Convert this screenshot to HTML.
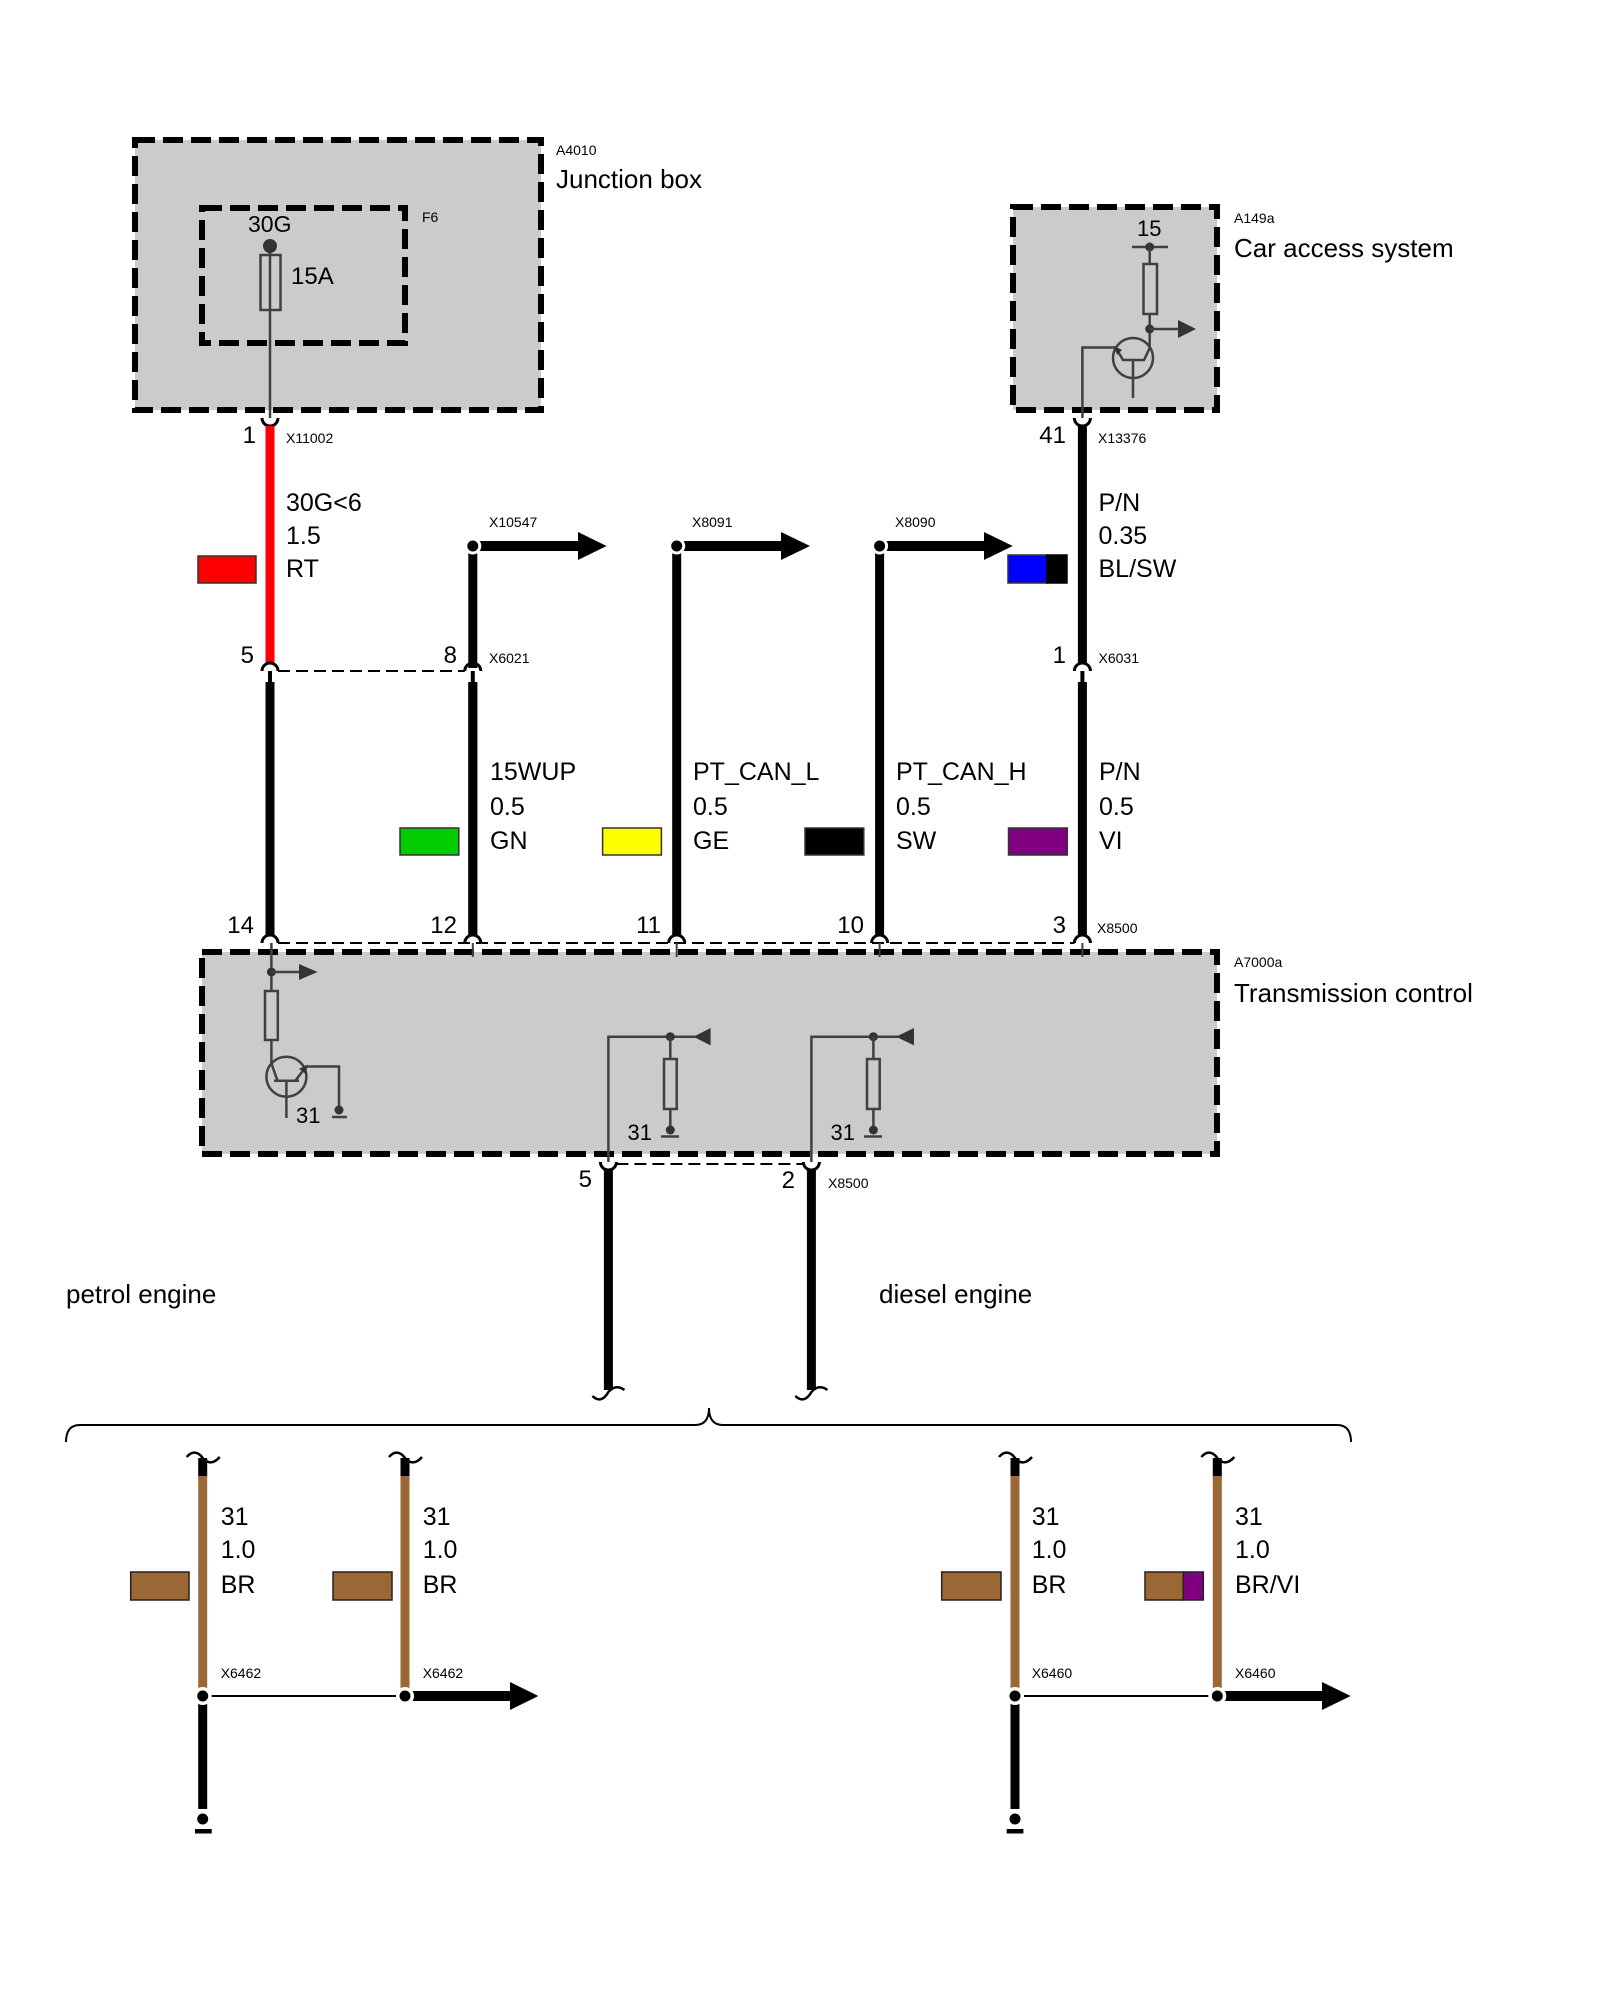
<!DOCTYPE html>
<html><head><meta charset="utf-8"><style>
html,body{margin:0;padding:0;background:#fff;}
svg{display:block;}
text{font-family:"Liberation Sans",Arial,sans-serif;fill:#000;}
.s14{font-size:14px;}
.s22{font-size:22px;}
.s24{font-size:24px;}
.s25{font-size:25px;}
.s26{font-size:26px;}
.e{text-anchor:end;}
</style></head><body>
<svg width="1600" height="2000" viewBox="0 0 1600 2000" xmlns="http://www.w3.org/2000/svg">
<rect width="1600" height="2000" fill="#fff"/>

<!-- ===== Junction box A4010 ===== -->
<rect x="135" y="140" width="406" height="270" fill="#cbcbcb" stroke="#000" stroke-width="6" stroke-dasharray="20 8"/>
<rect x="202" y="208" width="203" height="135" fill="none" stroke="#000" stroke-width="6" stroke-dasharray="20 8"/>
<text class="s14" x="556" y="155">A4010</text>
<text class="s26" x="556" y="188">Junction box</text>
<text class="s14" x="422" y="222">F6</text>
<text class="s22" x="248" y="232" style="font-size:23px">30G</text>
<line x1="270" y1="246" x2="270" y2="418" stroke="#404040" stroke-width="2.5"/>
<circle cx="270" cy="246" r="7" fill="#333"/>
<rect x="260.5" y="255" width="20" height="55" fill="none" stroke="#404040" stroke-width="2.5"/>
<text class="s24" x="291" y="284">15A</text>

<!-- connector X11002 -->
<path d="M262 418 A8 8 0 0 0 278 418" fill="none" stroke="#000" stroke-width="3"/>
<line x1="270" y1="426" x2="270" y2="663" stroke="#f00" stroke-width="9"/>
<text class="s24 e" x="256" y="443">1</text>
<text class="s14" x="286" y="443">X11002</text>
<rect x="198" y="556" width="58" height="27" fill="#f00" stroke="#333" stroke-width="1.5"/>
<text class="s25" x="286" y="511">30G&lt;6</text>
<text class="s25" x="286" y="544">1.5</text>
<text class="s25" x="286" y="577">RT</text>

<!-- ===== Car access system A149a ===== -->
<rect x="1013" y="207" width="204" height="203" fill="#cbcbcb" stroke="#000" stroke-width="6" stroke-dasharray="20 8"/>
<text class="s14" x="1234" y="223">A149a</text>
<text class="s26" x="1234" y="257">Car access system</text>
<text class="s22" x="1137" y="236">15</text>
<line x1="1132" y1="247" x2="1168" y2="247" stroke="#404040" stroke-width="2.5"/>
<circle cx="1149.7" cy="247" r="4.5" fill="#333"/>
<line x1="1149.7" y1="247" x2="1149.7" y2="350" stroke="#404040" stroke-width="2.5"/>
<rect x="1143.5" y="264" width="13.5" height="50" fill="#cbcbcb" stroke="#404040" stroke-width="2.5"/>
<circle cx="1149.7" cy="329" r="4.5" fill="#333"/>
<line x1="1149.7" y1="329" x2="1180" y2="329" stroke="#404040" stroke-width="2.5"/>
<polygon points="1178,320 1196,329 1178,338" fill="#333"/>
<circle cx="1133" cy="358" r="20" fill="none" stroke="#404040" stroke-width="2.5"/>
<line x1="1149.7" y1="348" x2="1144" y2="360" stroke="#404040" stroke-width="2.5"/>
<line x1="1122" y1="360" x2="1145" y2="360" stroke="#404040" stroke-width="2.5"/>
<line x1="1123" y1="360" x2="1116" y2="348" stroke="#404040" stroke-width="2.5"/>
<polygon points="1114,346 1122,350 1117,355" fill="#333"/>
<line x1="1133" y1="360" x2="1133" y2="398" stroke="#404040" stroke-width="2.5"/>
<polyline points="1116,347.5 1082.4,347.5 1082.4,418" fill="none" stroke="#404040" stroke-width="2.5"/>

<!-- connector X13376 -->
<path d="M1074.4 418 A8 8 0 0 0 1090.4 418" fill="none" stroke="#000" stroke-width="3"/>
<line x1="1082.4" y1="426" x2="1082.4" y2="663" stroke="#000" stroke-width="9"/>
<text class="s24 e" x="1066" y="443">41</text>
<text class="s14" x="1098" y="443">X13376</text>
<rect x="1008" y="555" width="39" height="28" fill="#00f" stroke="#333" stroke-width="1.5"/>
<rect x="1047" y="555" width="20" height="28" fill="#000" stroke="#000" stroke-width="1.5"/>
<text class="s25" x="1098.5" y="511">P/N</text>
<text class="s25" x="1098.5" y="544">0.35</text>
<text class="s25" x="1098.5" y="577">BL/SW</text>

<!-- ===== arrows X10547 / X8091 / X8090 ===== -->
<g>
<line x1="472.8" y1="546" x2="472.8" y2="935" stroke="#000" stroke-width="9"/>
<line x1="472.8" y1="546" x2="580" y2="546" stroke="#000" stroke-width="10"/>
<polygon points="578,532 606.6,546 578,560" fill="#000"/>
<circle cx="472.8" cy="546" r="8.5" fill="#fff"/>
<circle cx="472.8" cy="546" r="5.5" fill="#000"/>
<text class="s14" x="489" y="527">X10547</text>

<line x1="676.7" y1="546" x2="676.7" y2="935" stroke="#000" stroke-width="9"/>
<line x1="676.7" y1="546" x2="783" y2="546" stroke="#000" stroke-width="10"/>
<polygon points="781,532 810,546 781,560" fill="#000"/>
<circle cx="676.7" cy="546" r="8.5" fill="#fff"/>
<circle cx="676.7" cy="546" r="5.5" fill="#000"/>
<text class="s14" x="692" y="527">X8091</text>

<line x1="879.6" y1="546" x2="879.6" y2="935" stroke="#000" stroke-width="9"/>
<line x1="879.6" y1="546" x2="986" y2="546" stroke="#000" stroke-width="10"/>
<polygon points="984,532 1012.7,546 984,560" fill="#000"/>
<circle cx="879.6" cy="546" r="8.5" fill="#fff"/>
<circle cx="879.6" cy="546" r="5.5" fill="#000"/>
<text class="s14" x="895" y="527">X8090</text>
</g>

<rect x="466" y="668" width="14" height="14" fill="#fff"/>

<!-- ===== connectors X6021 / X6031 ===== -->
<line x1="278" y1="671" x2="464.8" y2="671" stroke="#000" stroke-width="2" stroke-dasharray="12 6"/>
<path d="M262 671 A8 8 0 0 1 278 671" fill="none" stroke="#000" stroke-width="3"/>
<path d="M464.8 671 A8 8 0 0 1 480.8 671" fill="none" stroke="#000" stroke-width="3"/>
<path d="M1074.4 671 A8 8 0 0 1 1090.4 671" fill="none" stroke="#000" stroke-width="3"/>
<line x1="270" y1="671" x2="270" y2="683" stroke="#000" stroke-width="4"/>
<line x1="472.8" y1="671" x2="472.8" y2="683" stroke="#000" stroke-width="4"/>
<line x1="1082.4" y1="671" x2="1082.4" y2="683" stroke="#000" stroke-width="4"/>
<text class="s24 e" x="254" y="663">5</text>
<text class="s24 e" x="457" y="663">8</text>
<text class="s14" x="489" y="663">X6021</text>
<text class="s24 e" x="1066" y="663">1</text>
<text class="s14" x="1098.5" y="663">X6031</text>

<!-- lower wires -->
<line x1="270" y1="682" x2="270" y2="935" stroke="#000" stroke-width="9"/>
<line x1="472.8" y1="682" x2="472.8" y2="935" stroke="#000" stroke-width="9"/>
<line x1="1082.4" y1="682" x2="1082.4" y2="935" stroke="#000" stroke-width="9"/>

<rect x="400" y="828" width="58.8" height="27" fill="#00cc00" stroke="#333" stroke-width="1.5"/>
<rect x="602.6" y="828" width="58.8" height="27" fill="#ffff00" stroke="#333" stroke-width="1.5"/>
<rect x="805" y="828" width="58.8" height="27" fill="#000" stroke="#333" stroke-width="1.5"/>
<rect x="1008.5" y="828" width="58.8" height="27" fill="#800080" stroke="#333" stroke-width="1.5"/>

<text class="s25" x="490" y="780">15WUP</text>
<text class="s25" x="490" y="815">0.5</text>
<text class="s25" x="490" y="849">GN</text>
<text class="s25" x="693" y="780">PT_CAN_L</text>
<text class="s25" x="693" y="815">0.5</text>
<text class="s25" x="693" y="849">GE</text>
<text class="s25" x="896" y="780">PT_CAN_H</text>
<text class="s25" x="896" y="815">0.5</text>
<text class="s25" x="896" y="849">SW</text>
<text class="s25" x="1099" y="780">P/N</text>
<text class="s25" x="1099" y="815">0.5</text>
<text class="s25" x="1099" y="849">VI</text>

<text class="s24 e" x="254" y="933">14</text>
<text class="s24 e" x="457" y="933">12</text>
<text class="s24 e" x="661" y="933">11</text>
<text class="s24 e" x="864" y="933">10</text>
<text class="s24 e" x="1066" y="933">3</text>
<text class="s14" x="1097" y="933">X8500</text>

<!-- ===== Transmission control A7000a ===== -->
<rect x="202" y="952" width="1015" height="202" fill="#cbcbcb" stroke="#000" stroke-width="6" stroke-dasharray="20 8"/>
<text class="s14" x="1234" y="967">A7000a</text>
<text class="s26" x="1234" y="1002">Transmission control</text>

<line x1="278" y1="943" x2="1074.4" y2="943" stroke="#000" stroke-width="2" stroke-dasharray="12 6"/>
<path d="M262 943 A8 8 0 0 1 278 943" fill="none" stroke="#000" stroke-width="3"/>
<path d="M464.8 943 A8 8 0 0 1 480.8 943" fill="none" stroke="#000" stroke-width="3"/>
<path d="M668.7 943 A8 8 0 0 1 684.7 943" fill="none" stroke="#000" stroke-width="3"/>
<path d="M871.6 943 A8 8 0 0 1 887.6 943" fill="none" stroke="#000" stroke-width="3"/>
<path d="M1074.4 943 A8 8 0 0 1 1090.4 943" fill="none" stroke="#000" stroke-width="3"/>
<line x1="472.8" y1="943" x2="472.8" y2="957" stroke="#404040" stroke-width="2"/>
<line x1="676.7" y1="943" x2="676.7" y2="957" stroke="#404040" stroke-width="2"/>
<line x1="879.6" y1="943" x2="879.6" y2="957" stroke="#404040" stroke-width="2"/>
<line x1="1082.4" y1="943" x2="1082.4" y2="957" stroke="#404040" stroke-width="2"/>

<!-- left circuit (pin 14) -->
<line x1="271.4" y1="943" x2="271.4" y2="1064" stroke="#404040" stroke-width="2.5"/>
<circle cx="271.4" cy="972" r="4.5" fill="#333"/>
<line x1="271.4" y1="972" x2="301" y2="972" stroke="#404040" stroke-width="2.5"/>
<polygon points="299,964 317.5,972 299,980" fill="#333"/>
<rect x="265" y="991" width="12.8" height="49" fill="#cbcbcb" stroke="#404040" stroke-width="2.5"/>
<circle cx="286.4" cy="1076.7" r="20" fill="none" stroke="#404040" stroke-width="2.5"/>
<line x1="271.4" y1="1063.5" x2="277.5" y2="1080.7" stroke="#404040" stroke-width="2.5"/>
<line x1="274" y1="1080.7" x2="299" y2="1080.7" stroke="#404040" stroke-width="2.5"/>
<line x1="295.3" y1="1080.7" x2="306" y2="1066.7" stroke="#404040" stroke-width="2.5"/>
<polygon points="307.5,1064.5 306,1074 299,1069" fill="#333"/>
<polyline points="306,1066.5 339,1066.5 339,1110" fill="none" stroke="#404040" stroke-width="2.5"/>
<circle cx="339" cy="1110" r="4.5" fill="#333"/>
<line x1="332" y1="1117" x2="347" y2="1117" stroke="#404040" stroke-width="2.5"/>
<line x1="286.4" y1="1080.7" x2="286.4" y2="1118" stroke="#404040" stroke-width="2.5"/>
<text class="s22" x="296" y="1123">31</text>

<!-- pin 5 circuit -->
<polyline points="608.4,1162 608.4,1036.7 695,1036.7" fill="none" stroke="#404040" stroke-width="2.5"/>
<circle cx="670.3" cy="1036.7" r="4.5" fill="#333"/>
<polygon points="693.5,1036.7 710.6,1028 710.6,1045.4" fill="#333"/>
<line x1="670.3" y1="1036.7" x2="670.3" y2="1130" stroke="#404040" stroke-width="2.5"/>
<rect x="664" y="1059" width="12.7" height="50" fill="#cbcbcb" stroke="#404040" stroke-width="2.5"/>
<circle cx="670.3" cy="1130" r="4.5" fill="#333"/>
<line x1="661" y1="1136.5" x2="679" y2="1136.5" stroke="#404040" stroke-width="2.5"/>
<text class="s22 e" x="652" y="1140">31</text>

<!-- pin 2 circuit -->
<polyline points="811.4,1162 811.4,1036.7 898,1036.7" fill="none" stroke="#404040" stroke-width="2.5"/>
<circle cx="873.4" cy="1036.7" r="4.5" fill="#333"/>
<polygon points="896,1036.7 914,1028 914,1045.4" fill="#333"/>
<line x1="873.4" y1="1036.7" x2="873.4" y2="1130" stroke="#404040" stroke-width="2.5"/>
<rect x="867" y="1059" width="12.7" height="50" fill="#cbcbcb" stroke="#404040" stroke-width="2.5"/>
<circle cx="873.4" cy="1130" r="4.5" fill="#333"/>
<line x1="864" y1="1136.5" x2="882" y2="1136.5" stroke="#404040" stroke-width="2.5"/>
<text class="s22 e" x="855" y="1140">31</text>

<!-- bottom connectors X8500 -->
<line x1="616.4" y1="1164" x2="803.4" y2="1164" stroke="#000" stroke-width="2" stroke-dasharray="12 6"/>
<path d="M600.4 1162 A8 8 0 0 0 616.4 1162" fill="none" stroke="#000" stroke-width="3"/>
<path d="M803.4 1162 A8 8 0 0 0 819.4 1162" fill="none" stroke="#000" stroke-width="3"/>
<line x1="608.4" y1="1170" x2="608.4" y2="1390" stroke="#000" stroke-width="9"/>
<line x1="811.4" y1="1170" x2="811.4" y2="1390" stroke="#000" stroke-width="9"/>
<text class="s24 e" x="592" y="1187">5</text>
<text class="s24 e" x="795" y="1188">2</text>
<text class="s14" x="828" y="1188">X8500</text>

<path d="M592.4 1396 c5 5 11 5 16 -4 c5 -6 11 -6 16 -2" fill="none" stroke="#000" stroke-width="2.5"/>
<path d="M795.4 1396 c5 5 11 5 16 -4 c5 -6 11 -6 16 -2" fill="none" stroke="#000" stroke-width="2.5"/>

<text class="s26" x="66" y="1303">petrol engine</text>
<text class="s26" x="879" y="1303">diesel engine</text>

<!-- brace -->
<path d="M66 1442 Q66 1425 80 1425 L695 1425 Q709 1425 709 1408 Q709 1425 723 1425 L1337 1425 Q1351 1425 1351 1442" fill="none" stroke="#000" stroke-width="2"/>

<!-- ===== bottom wires ===== -->
<g>
<path d="M186.7 1457 c5 -6 11 -6 16 1 c5 6 11 6 17 -1" fill="none" stroke="#000" stroke-width="2.5"/>
<line x1="202.7" y1="1458" x2="202.7" y2="1477" stroke="#000" stroke-width="9"/>
<line x1="202.7" y1="1476" x2="202.7" y2="1688" stroke="#9b6735" stroke-width="9"/>
<path d="M389 1457 c5 -6 11 -6 16 1 c5 6 11 6 17 -1" fill="none" stroke="#000" stroke-width="2.5"/>
<line x1="405" y1="1458" x2="405" y2="1477" stroke="#000" stroke-width="9"/>
<line x1="405" y1="1476" x2="405" y2="1688" stroke="#9b6735" stroke-width="9"/>
<path d="M999 1457 c5 -6 11 -6 16 1 c5 6 11 6 17 -1" fill="none" stroke="#000" stroke-width="2.5"/>
<line x1="1015" y1="1458" x2="1015" y2="1477" stroke="#000" stroke-width="9"/>
<line x1="1015" y1="1476" x2="1015" y2="1688" stroke="#9b6735" stroke-width="9"/>
<path d="M1201.3 1457 c5 -6 11 -6 16 1 c5 6 11 6 17 -1" fill="none" stroke="#000" stroke-width="2.5"/>
<line x1="1217.3" y1="1458" x2="1217.3" y2="1477" stroke="#000" stroke-width="9"/>
<line x1="1217.3" y1="1476" x2="1217.3" y2="1688" stroke="#9b6735" stroke-width="9"/>
</g>

<rect x="130.7" y="1572" width="58.3" height="28" fill="#9b6735" stroke="#222" stroke-width="1.5"/>
<rect x="333" y="1572" width="59" height="28" fill="#9b6735" stroke="#222" stroke-width="1.5"/>
<rect x="941.7" y="1572" width="59.3" height="28" fill="#9b6735" stroke="#222" stroke-width="1.5"/>
<rect x="1145" y="1572" width="38.3" height="28" fill="#9b6735" stroke="#222" stroke-width="1.5"/>
<rect x="1183.3" y="1572" width="20" height="28" fill="#800080" stroke="#222" stroke-width="1.5"/>

<text class="s25" x="220.7" y="1525">31</text>
<text class="s25" x="220.7" y="1558">1.0</text>
<text class="s25" x="220.7" y="1593">BR</text>
<text class="s25" x="422.7" y="1525">31</text>
<text class="s25" x="422.7" y="1558">1.0</text>
<text class="s25" x="422.7" y="1593">BR</text>
<text class="s25" x="1031.7" y="1525">31</text>
<text class="s25" x="1031.7" y="1558">1.0</text>
<text class="s25" x="1031.7" y="1593">BR</text>
<text class="s25" x="1235" y="1525">31</text>
<text class="s25" x="1235" y="1558">1.0</text>
<text class="s25" x="1235" y="1593">BR/VI</text>

<text class="s14" x="220.7" y="1678">X6462</text>
<text class="s14" x="422.7" y="1678">X6462</text>
<text class="s14" x="1031.7" y="1678">X6460</text>
<text class="s14" x="1235" y="1678">X6460</text>

<!-- petrol splice -->
<line x1="202.7" y1="1696" x2="405" y2="1696" stroke="#000" stroke-width="2"/>
<line x1="202.7" y1="1696" x2="202.7" y2="1809" stroke="#000" stroke-width="9"/>
<line x1="405" y1="1696" x2="512" y2="1696" stroke="#000" stroke-width="10"/>
<polygon points="510,1682 538.3,1696 510,1710" fill="#000"/>
<circle cx="202.7" cy="1696" r="9" fill="#fff"/>
<circle cx="202.7" cy="1696" r="5.5" fill="#000"/>
<circle cx="405" cy="1696" r="9" fill="#fff"/>
<circle cx="405" cy="1696" r="5.5" fill="#000"/>
<circle cx="202.7" cy="1819" r="8.5" fill="#fff"/>
<circle cx="202.7" cy="1819" r="5.5" fill="#000"/>
<rect x="195" y="1829" width="16.7" height="4.5" fill="#000"/>

<!-- diesel splice -->
<line x1="1015" y1="1696" x2="1217.3" y2="1696" stroke="#000" stroke-width="2"/>
<line x1="1015" y1="1696" x2="1015" y2="1809" stroke="#000" stroke-width="9"/>
<line x1="1217.3" y1="1696" x2="1324" y2="1696" stroke="#000" stroke-width="10"/>
<polygon points="1322,1682 1350.7,1696 1322,1710" fill="#000"/>
<circle cx="1015" cy="1696" r="9" fill="#fff"/>
<circle cx="1015" cy="1696" r="5.5" fill="#000"/>
<circle cx="1217.3" cy="1696" r="9" fill="#fff"/>
<circle cx="1217.3" cy="1696" r="5.5" fill="#000"/>
<circle cx="1015" cy="1819" r="8.5" fill="#fff"/>
<circle cx="1015" cy="1819" r="5.5" fill="#000"/>
<rect x="1006.7" y="1829" width="16.7" height="4.5" fill="#000"/>

</svg>
</body></html>
